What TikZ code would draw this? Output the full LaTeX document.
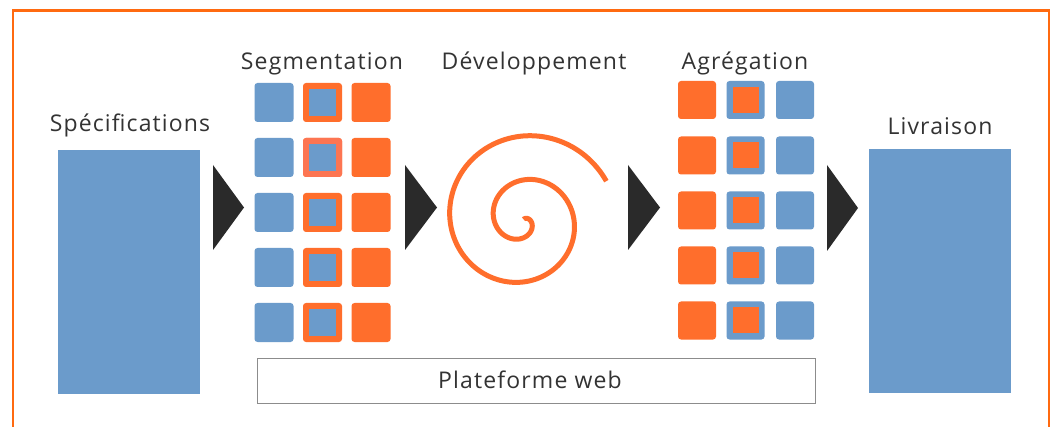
\documentclass[tikz,border=0pt]{standalone}
\usepackage{fontspec}
\setmainfont{Open Sans}[LetterSpace=5]
\definecolor{bord}{HTML}{FF6A10}
\definecolor{orng}{HTML}{FF6E2C}
\definecolor{orngl}{HTML}{FD7552}
\definecolor{blu}{HTML}{6B9BCB}
\definecolor{dark}{HTML}{2A2A2A}
\definecolor{txt}{HTML}{333333}
\begin{document}
\begin{tikzpicture}[x=1pt,y=-1pt,
  sqb/.style={fill=blu,minimum size=39pt,inner sep=0pt,rounded corners=3pt},
  sqo/.style={fill=orng,minimum size=39pt,inner sep=0pt,rounded corners=3pt},
  inb/.style={fill=blu,minimum size=27pt,inner sep=0pt},
  ino/.style={fill=orng,minimum size=26pt,inner sep=0pt},
  lbl/.style={anchor=base,text=txt,font=\fontsize{23}{26}\selectfont,inner sep=0pt},
  chev/.style={fill=dark},
  big/.style={fill=blu,inner sep=0pt}]
\useasboundingbox (0,0) rectangle (1054,427);
\fill[white] (0,0) rectangle (1054,427);
% border
\draw[bord,line width=2.5pt] (13,427) -- (13,10.5) -- (1049,10.5) -- (1049,427);
% big rectangles
\node[big,minimum width=142pt,minimum height=244pt] (spec) at (129,272) {};
\node[big,minimum width=142pt,minimum height=244pt] (livr) at (940,271) {};
% labels
\node[lbl] (tspec) at (130,132) {Spécifications};
\node[lbl] (tseg) at (322,70) {Segmentation};
\node[lbl] (tdev) at (534,70) {Développement};
\node[lbl] (tagr) at (745,70) {Agrégation};
\node[lbl] (tliv) at (940,135) {Livraison};
% segmentation squares
\foreach \r/\y in {1/102.5,2/157.5,3/212.5,4/267.5,5/322.5}{
  \node[sqb] (sa\r) at (274,\y) {};
  \node[sqo] (sb\r) at (322.5,\y) {};
  \node[inb] (sbi\r) at (322.5,\y) {};
  \node[sqo] (sc\r) at (371,\y) {};
}
\node[sqo,fill=orngl] (sb2x) at (322.5,157.5) {};
\node[inb] (sbi2x) at (322.5,157.5) {};
% aggregation squares
\foreach \r/\y in {1/100,2/155.5,3/210.5,4/265.5,5/320.5}{
  \node[sqo,minimum size=38pt] (aa\r) at (697,\y) {};
  \node[sqb,minimum size=38pt] (ab\r) at (745.5,\y) {};
  \node[ino] (abi\r) at (745.5,\y) {};
  \node[sqb,minimum size=38pt] (ac\r) at (795,\y) {};
}
% chevrons
\fill[chev] (213,165) -- (244,207.5) -- (213,250) -- cycle;
\fill[chev] (405,165) -- (437,207.5) -- (405,250) -- cycle;
\fill[chev] (628,165) -- (660,207.5) -- (628,250) -- cycle;
\fill[chev] (827,165) -- (858,208) -- (827,251) -- cycle;
% spiral
\draw[orng,line width=5pt] plot[domain=-50:695,samples=300,smooth]
  ({523+(7+11*\x/90)*cos(\x)},{220+(7+11*\x/90)*sin(\x)});
% platform box
\node[draw=gray!90,line width=1pt,minimum width=558pt,minimum height=45pt,inner sep=0pt] (plat) at (536,380.5) {};
\node[lbl] (tplat) at (530,388) {Plateforme web};
\end{tikzpicture}
\end{document}
